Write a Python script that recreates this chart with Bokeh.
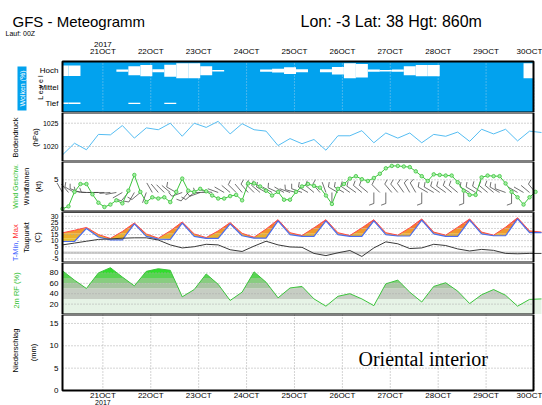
import numpy as np
from bokeh.plotting import figure
from bokeh.layouts import column
from bokeh.models import Range1d
from bokeh.core.properties import value
from bokeh.embed import file_html
from bokeh.resources import INLINE

# ------------------------------------------------------------------ data
first_time = 20.157          # day of October of the first forecast step
step6 = 0.25                 # 6-hourly series
step3 = 0.125                # 3-hourly wind series
day_ticks = [21, 22, 23, 24, 25, 26, 27, 28, 29, 30]
day_labels = ["21OCT", "22OCT", "23OCT", "24OCT", "25OCT",
              "26OCT", "27OCT", "28OCT", "29OCT", "30OCT"]
year_label = "2017"
cloud_level_pos = [18, 49, 82]
cloud_level_names = ["Tief", "Mittel", "Hoch"]
pressure_ticks = [1020, 1025]
wind_ticks = [5]
temp_ticks = [-5, 0, 5, 10, 15, 20, 25, 30]
rh_ticks = [20, 40, 60, 80]
precip_ticks = [0, 5, 10, 15]

pressure_hpa = [1018.2, 1020.7, 1019.3, 1022.6, 1022.5, 1024.5, 1021.8, 1024.0, 1023.6, 1025.0,
                1022.2, 1025.0, 1024.1, 1025.4, 1022.7, 1024.9, 1023.6, 1023.3, 1020.2, 1021.7,
                1020.6, 1021.5, 1019.2, 1022.3, 1022.3, 1023.4, 1020.8, 1022.9, 1021.8, 1022.9,
                1020.8, 1022.6, 1022.2, 1023.1, 1021.1, 1023.7, 1022.7, 1023.7, 1021.2, 1023.3,
                1023.0]
cloud_high_pct = [70, 70, 0, 0, 0, 15, 60, 75, 20, 80,
                  100, 100, 60, 10, 0, 0, 0, 15, 25, 45,
                  20, 0, 20, 50, 100, 90, 15, 10, 15, 60,
                  75, 75, 0, 0, 0, 0, 0, 0, 0, 100,
                  100]
cloud_low_pct = [10, 10, 0, 0, 0, 0, 8, 0, 0, 8,
                 0, 0, 0, 0, 0, 0, 0, 0, 0, 0,
                 0, 0, 0, 0, 0, 0, 0, 0, 0, 0,
                 0, 0, 0, 0, 0, 0, 0, 0, 0, 0,
                 0]
wind_speed_kt = [0.2, 0.6, 3.0, 4.3, 4.3, 2.6, 1.2, 0.5, 0.9, 1.6,
                 1.1, 3.2, 5.8, 3.0, 1.3, 2.1, 1.9, 2.1, 1.3, 3.0,
                 5.2, 3.2, 3.0, 3.5, 3.1, 2.4, 1.9, 1.9, 2.3, 2.5,
                 1.6, 4.4, 4.4, 3.9, 3.2, 2.4, 3.0, 1.7, 1.7, 3.0,
                 3.9, 4.3, 4.0, 3.7, 2.4, 1.0, 3.5, 4.3, 5.2, 5.6,
                 5.1, 4.8, 5.3, 6.0, 6.9, 7.3, 7.3, 7.2, 7.1, 6.4,
                 5.6, 4.8, 5.9, 5.8, 5.7, 5.7, 4.6, 3.2, 2.5, 2.5,
                 5.4, 5.7, 5.6, 5.6, 4.4, 3.0, 2.1, 0.9, 2.1, 3.0]
wind_dir_deg = [330, 320, 300, 290, 275, 270, 270, 270, 265, 260,
                240, 220, 210, 230, 200, 330, 320, 315, 310, 300,
                250, 220, 230, 250, 270, 280, 290, 300, 310, 315,
                320, 320, 315, 310, 300, 300, 295, 300, 290, 285,
                290, 300, 310, 320, 340, 180, 300, 300, 305, 305,
                310, 310, 180, 315, 180, 320, 320, 325, 330, 330,
                180, 300, 300, 305, 305, 310, 310, 180, 300, 300,
                305, 310, 310, 300, 290, 180, 300, 300, 310, 320]
temp_max_c = [16.4, 18.5, 20.8, 15.0, 11.8, 17.5, 24.5, 15.5, 12.0, 18.0,
              25.3, 15.5, 12.5, 18.0, 24.8, 16.0, 12.8, 19.5, 27.2, 16.5,
              14.2, 20.5, 27.2, 16.5, 14.2, 20.5, 27.2, 16.5, 14.5, 20.5,
              27.8, 17.0, 14.5, 21.0, 27.8, 17.0, 14.5, 21.0, 28.8, 18.0,
              17.0]
temp_min_c = [9.3, 9.3, 20.0, 13.0, 10.6, 10.6, 23.7, 13.5, 11.2, 11.0,
              24.3, 13.5, 11.8, 11.8, 23.8, 14.0, 12.0, 12.0, 26.2, 15.0,
              13.5, 13.5, 26.2, 15.0, 13.5, 13.5, 26.2, 15.0, 13.8, 13.8,
              26.8, 15.5, 13.5, 13.5, 26.8, 15.5, 14.0, 14.0, 27.8, 16.5,
              16.5]
dewpoint_c = [6.5, 8.0, 9.5, 11.0, 11.4, 12.0, 12.3, 12.3, 10.5, 6.5,
              4.0, 5.0, 7.0, 6.5, 2.5, 1.1, 5.5, 9.5, 6.5, 4.8,
              4.5, -0.5, -2.3, 0.0, 1.9, -3.0, 4.0, 9.0, 7.4, 3.5,
              4.0, 7.0, 6.0, 3.2, 1.5, 2.8, 2.0, -0.5, -0.8, -0.5,
              -0.5]
rel_hum_pct = [84, 66, 50, 80, 90, 72, 55, 83, 88, 85,
               34, 48, 78, 58, 27, 43, 82, 62, 32, 51,
               54, 30, 16, 35, 40, 30, 17, 59, 66, 43,
               24, 54, 61, 45, 21, 38, 48, 37, 16, 29,
               30]

# ------------------------------------------------------------------ layout
FONT = "Liberation Sans"
W = 542
FX0, FX1 = 62, 533                 # frame left / right in px
X0, X1 = 20.157, 29.99             # time range of the frame (days)
PXD = (FX1 - FX0) / (X1 - X0)      # px per day
xr = Range1d(X0 - FX0 / PXD, X0 + (W - FX0) / PXD)

t6 = np.array([first_time + step6 * i for i in range(len(pressure_hpa))])
t3 = np.array([first_time + step3 * i for i in range(len(wind_speed_kt))])


def xd(px):
    return X0 + (px - FX0) / PXD


# keep the last date label inside the page
label_x = [min(d, xd(W - 13)) for d in day_ticks]


class Panel:
    def __init__(self, top, bot, vbot, vtop, fbot=None, ftop=None, bg="white"):
        self.top, self.bot, self.vbot, self.vtop = top, bot, vbot, vtop
        self.fbot = vbot if fbot is None else fbot
        self.ftop = vtop if ftop is None else ftop
        p = figure(width=W, height=bot - top, x_range=xr, y_range=Range1d(vbot, vtop),
                   x_axis_location=None, y_axis_location=None,
                   toolbar_location=None, output_backend="svg",
                   min_border=0, min_border_left=0, min_border_right=0,
                   min_border_top=0, min_border_bottom=0,
                   outline_line_color=None, background_fill_color="white",
                   border_fill_color="white")
        p.xgrid.visible = False
        p.ygrid.visible = False
        self.p = p
        p.quad(left=[X0], right=[X1], bottom=[self.fbot], top=[self.ftop],
               fill_color=bg, line_color=None)

    def Y(self, py):
        return self.vbot + (self.bot - py) / (self.bot - self.top) * (self.vtop - self.vbot)

    def hgrid(self, ticks, color="#a8a8a8"):
        self.p.segment(x0=[X0] * len(ticks), x1=[X1] * len(ticks), y0=ticks, y1=ticks,
                       line_color=color, line_dash="1 2", line_width=1)

    def vgrid(self, color="#a8a8a8"):
        n = len(day_ticks)
        self.p.segment(x0=day_ticks, x1=day_ticks, y0=[self.fbot] * n, y1=[self.ftop] * n,
                       line_color=color, line_dash="1 2", line_width=1)

    def ticklabels(self, ticks, labels=None, size="7px"):
        labels = labels or [str(t) for t in ticks]
        self.p.text(x=[xd(FX0 - 4)] * len(ticks), y=ticks, text=labels,
                    text_align="right", text_baseline="middle",
                    text_font=value(FONT), text_font_size=size, text_color="black")

    def txt(self, x_px, y_px, s, size="8px", color="black", align="center",
            baseline="middle", angle=0.0, font=FONT):
        self.p.text(x=[xd(x_px)], y=[self.Y(y_px)], text=[s], angle=angle,
                    text_align=align, text_baseline=baseline, text_font=value(font),
                    text_font_size=size, text_color=color)

    def frame(self, width=2, color="black"):
        self.p.quad(left=[X0], right=[X1], bottom=[self.fbot], top=[self.ftop],
                    fill_color=None, line_color=color, line_width=width)


def refine(x, curves, levels):
    xs = set(float(v) for v in x)
    for y in curves:
        for k in range(len(x) - 1):
            y0, y1 = y[k], y[k + 1]
            for L in levels:
                if (y0 - L) * (y1 - L) < 0:
                    xs.add(float(x[k] + (L - y0) / (y1 - y0) * (x[k + 1] - x[k])))
    xx = np.array(sorted(xs))
    return xx, [np.interp(xx, x, np.asarray(y, float)) for y in curves]


ROT = np.pi / 2

# ---------------- header + cloud panel
CB = "#02a2ee"
pc = Panel(0, 112, 0, 100 * 112 / 51, fbot=0, ftop=100, bg=CB)
pc.vgrid(color="#8fcbea")
K = 7.5 * 100 / 51 / 100      # half thickness per % cover (units of panel)
hi = np.array(cloud_high_pct, float)
lo = np.array(cloud_low_pct, float)
m = hi > 0
pc.p.quad(left=t6[m] - step6 / 2, right=t6[m] + step6 / 2,
          bottom=cloud_level_pos[2] - hi[m] * K, top=cloud_level_pos[2] + hi[m] * K,
          fill_color="white", line_color=None)
m = lo > 0
pc.p.quad(left=t6[m] - step6 / 2, right=t6[m] + step6 / 2,
          bottom=cloud_level_pos[0] - lo[m] * K, top=cloud_level_pos[0] + lo[m] * K,
          fill_color="white", line_color=None)
pc.frame()
pc.ticklabels(cloud_level_pos, cloud_level_names, size="8px")
pc.p.text(x=label_x, y=[pc.Y(51)] * len(day_ticks), text=day_labels,
          text_align="center", text_baseline="middle", text_font=value(FONT),
          text_font_size="8px", text_color="black")
pc.p.text(x=[day_ticks[0]], y=[pc.Y(44)], text=[year_label], text_align="center",
          text_baseline="middle", text_font=value(FONT), text_font_size="8px",
          text_color="black")
pc.p.quad(left=[xd(17)], right=[xd(26)], bottom=[pc.Y(110)], top=[pc.Y(66)],
          fill_color=CB, line_color=None)
pc.txt(21.5, 88, "Wolken (%)", size="7px", color="white", angle=ROT)
pc.txt(40, 87, "L e v e l", size="7px", angle=ROT)
pc.txt(12, 21, "GFS - Meteogramm", size="15px", align="left", baseline="alphabetic")
pc.txt(300, 21, "Lon: -3 Lat: 38 Hgt: 860m", size="16px", align="left",
       baseline="alphabetic")
pc.txt(5, 33, "Lauf: 00Z", size="7px", align="left", baseline="alphabetic")

# ---------------- pressure panel
pp = Panel(112, 161, 1016.78, 1027.3)
pp.hgrid(pressure_ticks)
pp.p.line(t6, pressure_hpa, line_color="#55bdf2", line_width=1)
pp.frame()
pp.ticklabels(pressure_ticks)
pp.txt(15, 137, "Bodendruck", size="7.5px", angle=ROT)
pp.txt(35, 137, "(hPa)", size="7.5px", angle=ROT)

# ---------------- wind panel
pw = Panel(161, 211, -0.25, 8.03)
pw.hgrid(wind_ticks)
ppk = 50 / (8.03 + 0.25)
station = 2.9
Ls, Lf = 11.0, 5.0
bx0, by0, bx1, by1 = [], [], [], []
for t, d, s in zip(t3, wind_dir_deg, wind_speed_kt):
    a = np.radians(d)
    tx = t + Ls * np.sin(a) / PXD
    ty = station + Ls * np.cos(a) / ppk
    bx0.append(t); by0.append(station); bx1.append(tx); by1.append(ty)
    if s >= 2.5:
        b = a + np.radians(70)
        bx0.append(tx); by0.append(ty)
        bx1.append(tx + Lf * np.sin(b) / PXD); by1.append(ty + Lf * np.cos(b) / ppk)
pw.p.segment(x0=bx0, y0=by0, x1=bx1, y1=by1, line_color="#333333", line_width=0.7)
pw.p.line(t3, wind_speed_kt, line_color="#3cc43c", line_width=1)
pw.p.scatter(t3, wind_speed_kt, size=3.5, marker="circle", line_color="#3cc43c",
             fill_color="#a6eea6", line_width=0.8)
pw.frame()
pw.ticklabels(wind_ticks, size="8px")
pw.txt(15, 186, "Wind Geschw.", size="7px", color="#30c030", angle=ROT)
pw.txt(26, 186, "Windfahnen", size="7px", angle=ROT)
pw.txt(38, 186, "(kt)", size="7.5px", angle=ROT)

# ---------------- temperature panel
pt = Panel(211, 262, -7.95, 33.9)
pt.p.segment(x0=[X0], x1=[X1], y0=[0], y1=[0], line_color="#cfcfcf", line_width=2.5)
t_levels = [12, 16, 20, 24]
t_cols = ["#e6c12e", "#ebb02b", "#f09a2c", "#f37f2e", "#f25b3b"]
xx, (tmin_r, tmax_r) = refine(t6, [temp_min_c, temp_max_c], t_levels)
edges = [-50] + t_levels + [60]
for k, col in enumerate(t_cols):
    a, b = edges[k], edges[k + 1]
    pt.p.varea(x=xx, y1=np.clip(tmin_r, a, b), y2=np.clip(tmax_r, a, b), fill_color=col)
pt.hgrid(temp_ticks)
pt.p.line(t6, temp_max_c, line_color="#ff4a4a", line_width=1)
pt.p.line(t6, temp_min_c, line_color="#4a6cf0", line_width=1.2)
pt.p.line(t6, dewpoint_c, line_color="#3a3a3a", line_width=1)
pt.frame()
pt.p.segment(x0=[X0], x1=[X1], y0=[33.9], y1=[33.9], line_color="#444444", line_width=3)
pt.ticklabels(temp_ticks, size="7px")
pt.txt(15, 240, "T-Min,", size="7.5px", color="#3b5cff", align="right", angle=ROT)
pt.txt(15, 238, "Max", size="7.5px", color="#ff3030", align="left", angle=ROT)
pt.txt(26, 237, "Taupunkt", size="7.5px", angle=ROT)
pt.txt(37, 237, "(C)", size="7.5px", angle=ROT)

# ---------------- relative humidity panel
pr = Panel(262, 314, 0, 100)
r_levels = [30, 50, 60, 70, 80, 90]
r_cols = ["#e6f3e6", "#c6cdc3", "#a9c4a3", "#88cd80", "#58d452", "#30de2c", "#14e814"]
xr2, (rh_r,) = refine(t6, [rel_hum_pct], r_levels)
redges = [0] + r_levels + [100]
for k, col in enumerate(r_cols):
    a, b = redges[k], redges[k + 1]
    pr.p.varea(x=xr2, y1=np.full_like(rh_r, a), y2=np.clip(rh_r, a, b), fill_color=col)
pr.hgrid(rh_ticks)
pr.p.line(t6, rel_hum_pct, line_color="#3cc43c", line_width=1)
pr.frame()
pr.ticklabels(rh_ticks, size="8px")
pr.txt(16, 290, "2m RF (%)", size="7.5px", color="#30c030", angle=ROT)

# ---------------- precipitation panel
pq = Panel(314, 405, -15 * 17 / 76, 17, fbot=0, ftop=17)
pq.hgrid(precip_ticks[1:])
pq.vgrid()
pq.frame()
pq.ticklabels(precip_ticks, size="8px")
pq.p.text(x=label_x, y=[pq.Y(395)] * len(day_ticks), text=day_labels,
          text_align="center", text_baseline="middle", text_font=value(FONT),
          text_font_size="8px", text_color="black")
pq.p.text(x=[day_ticks[0]], y=[pq.Y(401.5)], text=[year_label], text_align="center",
          text_baseline="middle", text_font=value(FONT), text_font_size="7px",
          text_color="black")
pq.txt(15, 350, "Niederschlag", size="7.5px", angle=ROT)
pq.txt(33, 352, "(mm)", size="7.5px", angle=ROT)
pq.txt(358, 358, "Oriental interior", size="20px", align="left",
       baseline="alphabetic", font="Liberation Serif")

p = column(pc.p, pp.p, pw.p, pt.p, pr.p, pq.p, spacing=0)
open("out.html", "w").write(file_html(p, INLINE))
